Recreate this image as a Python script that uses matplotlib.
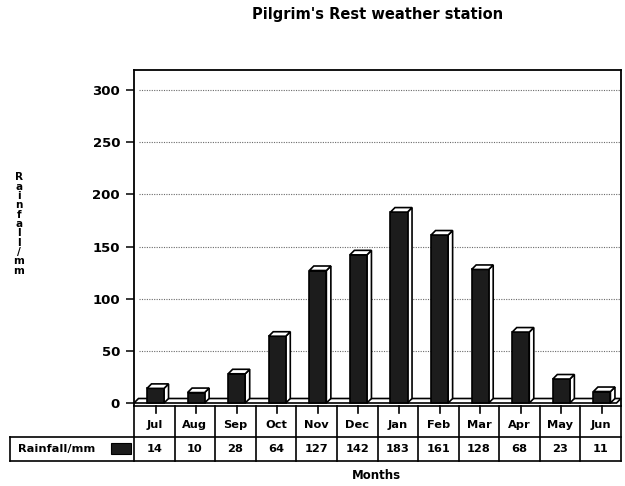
import matplotlib
matplotlib.use("Agg")
import matplotlib.pyplot as plt
from matplotlib.patches import Polygon, Rectangle
import numpy as np

plt.rcParams['font.family'] = ['DejaVu Sans']

# Monthly rainfall at Pilgrim's Rest
months = ["Jul", "Aug", "Sep", "Oct", "Nov", "Dec", "Jan", "Feb", "Mar", "Apr", "May", "Jun"]
rainfall = [14, 10, 28, 64, 127, 142, 183, 161, 128, 68, 23, 11]
yticks = [0, 50, 100, 150, 200, 250, 300]
series_name = "Rainfall/mm"

W, H = 625, 486
fig = plt.figure(figsize=(W / 100, H / 100), dpi=100)

# pixel geometry of the plotting frame
x0, x1 = 134, 621
ytop, ybot = 70, 406
ax = fig.add_axes([x0 / W, 1 - ybot / H, (x1 - x0) / W, (ybot - ytop) / H])
ncol = len(months)
ppu = 1.0433  # pixels per mm
ax.set_xlim(0, ncol)
ax.set_ylim(-(ybot - 403) / ppu, (403 - ytop) / ppu)
colw = (x1 - x0) / ncol

# 3-D depth offsets in data units
dpx = 4.5
ddx = dpx / colw
ddy = dpx / ppu

dark = "#1c1c1c"
lw = 1.2

# floor band
floor = Polygon([(0, 0), (ncol - ddx, 0), (ncol, ddy), (ddx, ddy)], closed=True,
                facecolor="white", edgecolor="black", lw=lw, zorder=2, clip_on=False)
ax.add_patch(floor)

# gridlines
for t in yticks[1:]:
    ax.plot([ddx, ncol], [t, t], ls=(0, (1, 1.2)), color="#6a6a6a", lw=0.8, zorder=1)

# bars with 3-D sides
xc = np.arange(ncol) + 0.53
bw = 0.42
bars = ax.bar(xc, rainfall, width=bw, color=dark, edgecolor="black", lw=lw, zorder=4)
for x, v in zip(xc, rainfall):
    l, r = x - bw / 2, x + bw / 2
    side = Polygon([(r, 0), (r + ddx, ddy), (r + ddx, v + ddy), (r, v)], closed=True,
                   facecolor="white", edgecolor="black", lw=lw, zorder=3)
    top = Polygon([(l, v), (r, v), (r + ddx, v + ddy), (l + ddx, v + ddy)], closed=True,
                  facecolor="white", edgecolor="black", lw=lw, zorder=5)
    ax.add_patch(side)
    ax.add_patch(top)

ax.set_xticks([])
ax.set_yticks(yticks)
ax.set_yticklabels([str(t) for t in yticks], fontsize=9.5, fontweight="bold")
ax.tick_params(axis="y", length=6, width=1.1, pad=4, direction="out")
for s in ax.spines.values():
    s.set_linewidth(1.3)
ax.spines["bottom"].set_visible(False)

# vertical stacked axis title
ylab = "\n".join(list("Rainfall/mm"))
fig.text(19 / W, 1 - 224 / H, ylab, ha="center", va="center", fontsize=7.5,
         fontweight="bold", linespacing=0.92)

# title
fig.text(378 / W, 1 - 15 / H, "Pilgrim's Rest weather station", ha="center", va="center",
         fontsize=10.5, fontweight="bold")

# data table under the chart
tt, tm, tb = 406, 437, 461
tab = fig.add_axes([x0 / W, 1 - tb / H, (x1 - x0) / W, (tb - tt) / H])
tab.set_xlim(0, ncol)
tab.set_ylim(tb - tt, 0)
tab.axis("off")
lx = -(x0 - 10) / colw
k = dict(color="black", lw=1.2, clip_on=False)
tab.plot([0, ncol], [0, 0], **k)
tab.plot([lx, ncol], [tm - tt, tm - tt], **k)
tab.plot([lx, ncol], [tb - tt, tb - tt], **k)
tab.plot([lx, lx], [tm - tt, tb - tt], **k)
for i in range(ncol + 1):
    tab.plot([i, i], [0, tb - tt], **k)
for i, (m, v) in enumerate(zip(months, rainfall)):
    tab.plot([xc[i], xc[i]], [0, 7], **k)
    tab.text(i + 0.5, 19.5, m, ha="center", va="center", fontsize=8.2, fontweight="bold")
    tab.text(i + 0.5, (tm - tt + tb - tt) / 2, str(v), ha="center", va="center",
             fontsize=8.2, fontweight="bold")
tab.text(lx + 0.2, (tm - tt + tb - tt) / 2, series_name, ha="left", va="center",
         fontsize=8.2, fontweight="bold")
tab.add_patch(Rectangle((-(x0 - 111) / colw, 37), 20 / colw, 11,
                        facecolor=dark, edgecolor="black", lw=0.8, clip_on=False))

fig.text(376 / W, 1 - 475 / H, "Months", ha="center", va="center", fontsize=8.5,
         fontweight="bold")

fig.savefig("out.png", dpi=100)
